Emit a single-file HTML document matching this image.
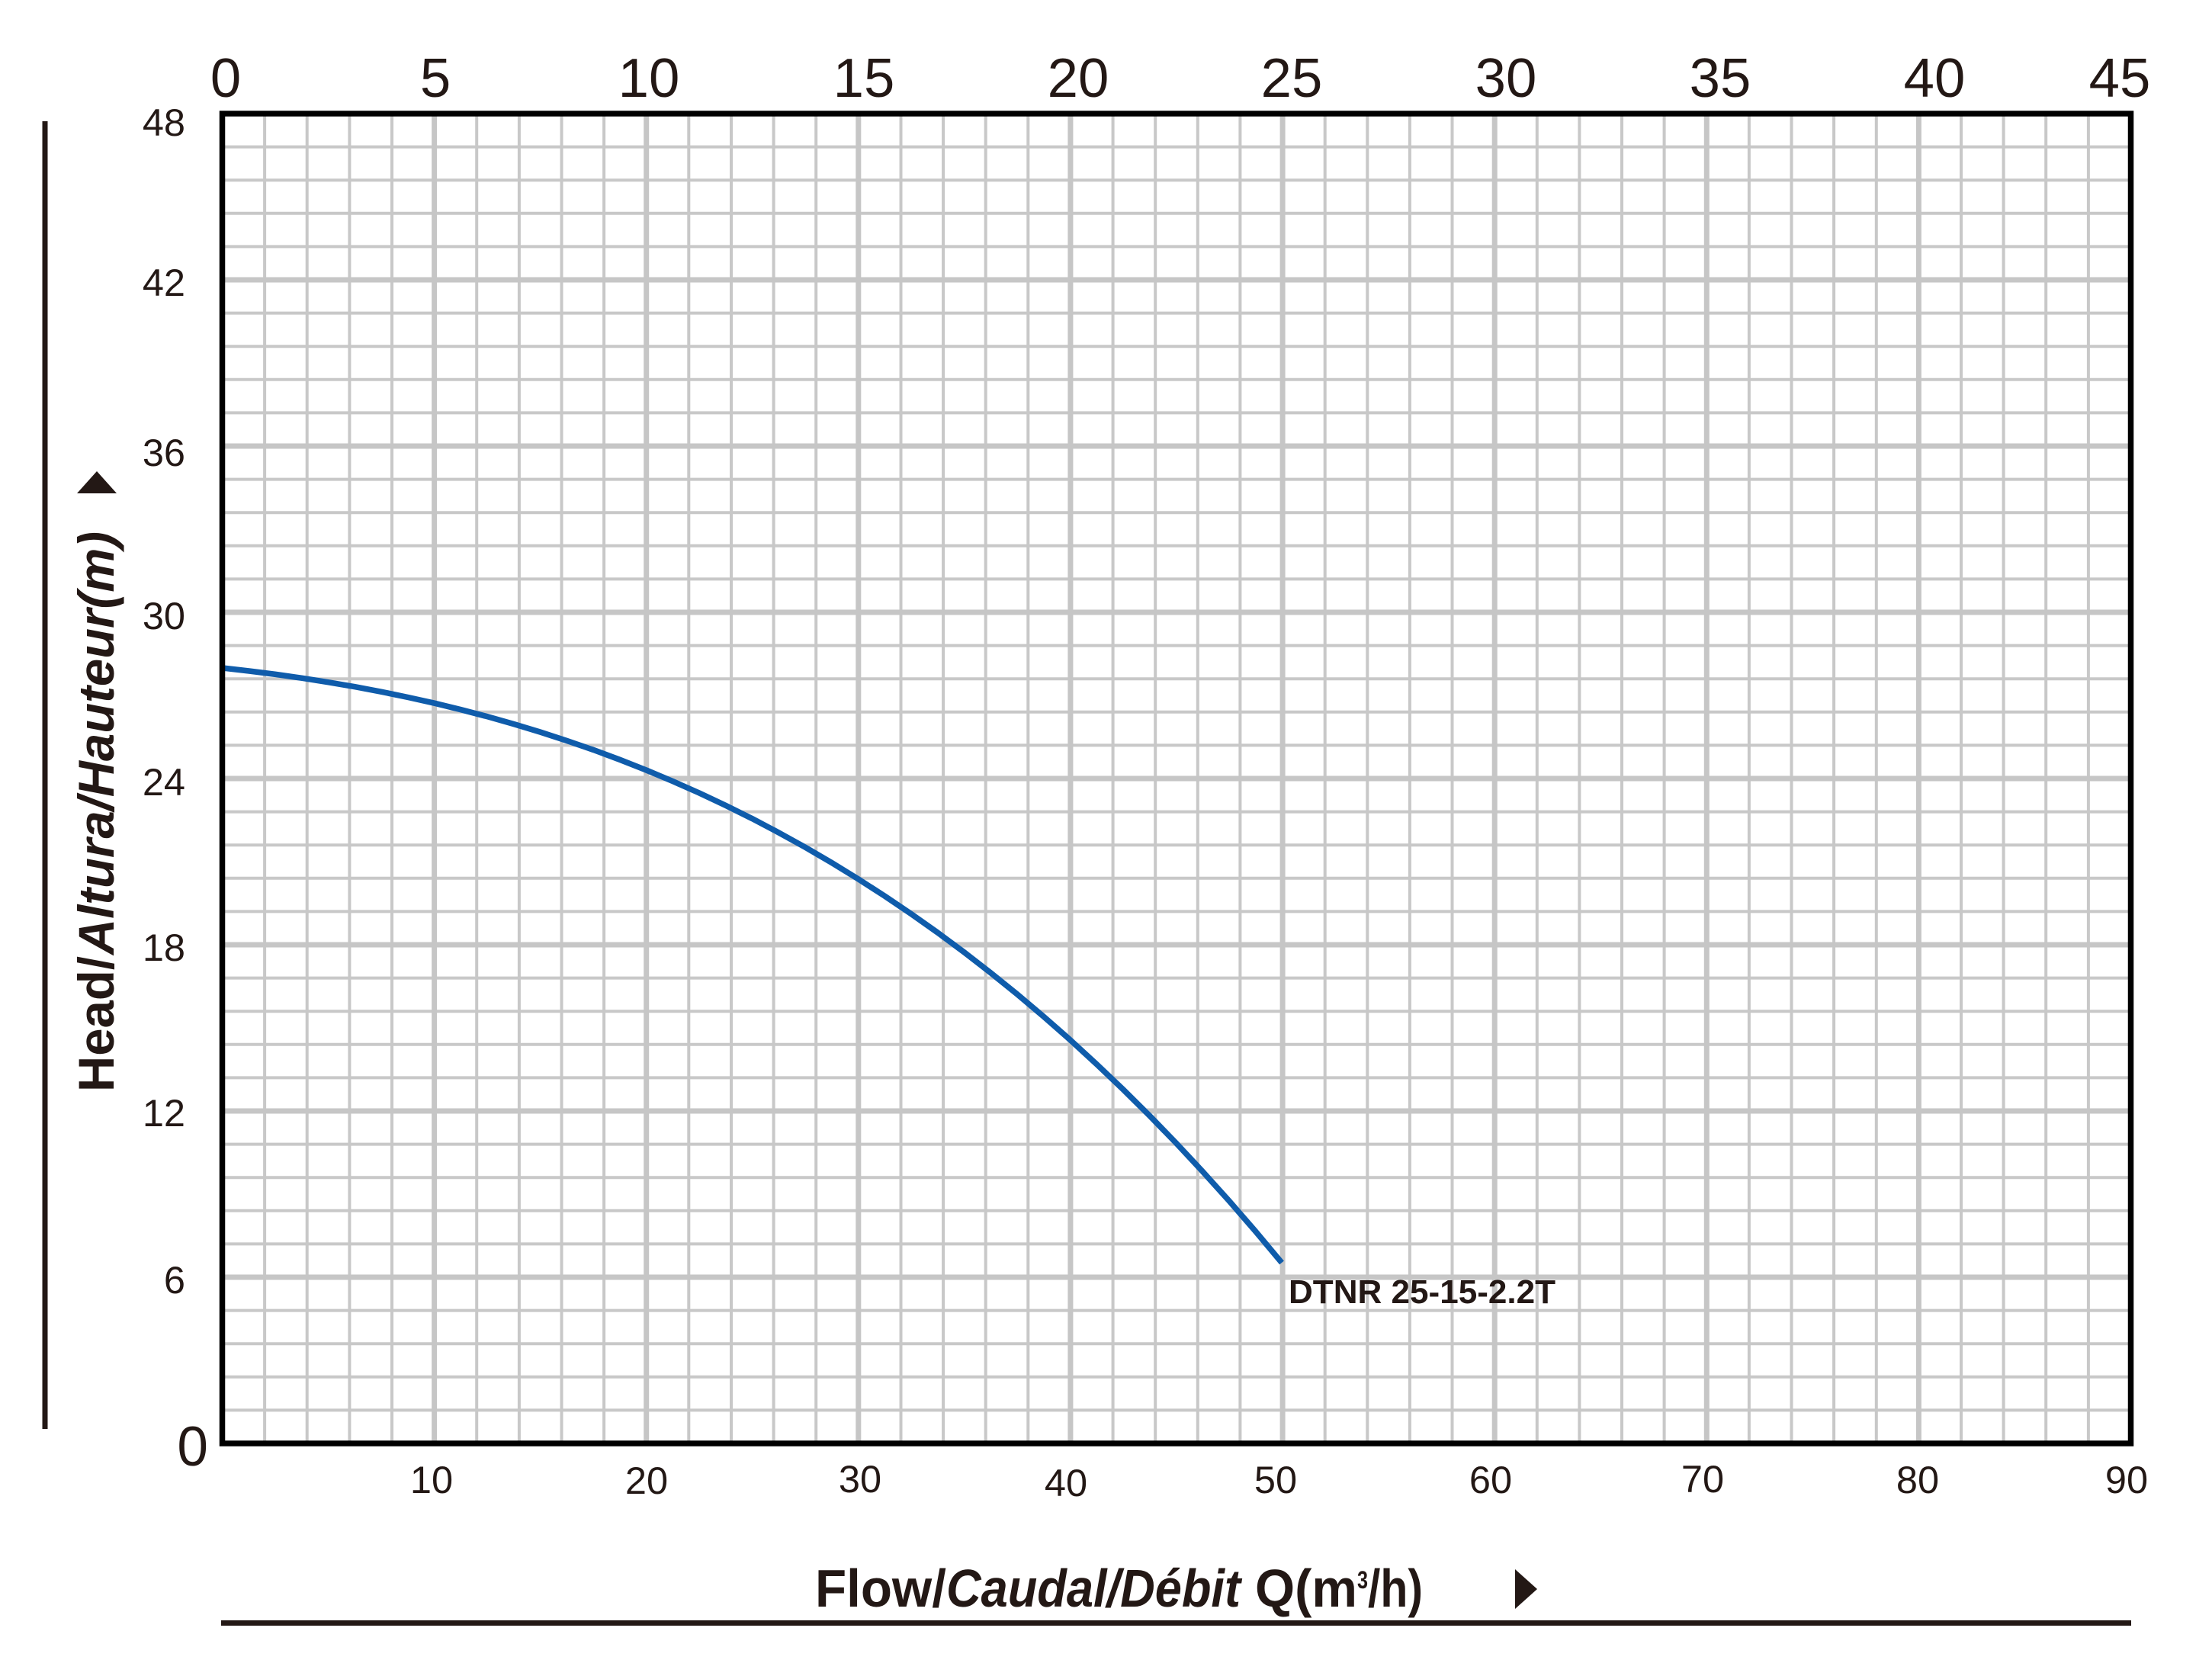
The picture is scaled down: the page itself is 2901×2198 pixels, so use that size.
<!DOCTYPE html>
<html>
<head>
<meta charset="utf-8">
<style>
html,body{margin:0;padding:0;background:#fff;}
svg{display:block;}
</style>
</head>
<body>
<svg width="2901" height="2198" viewBox="0 0 2901 2198" xmlns="http://www.w3.org/2000/svg">
<rect x="0" y="0" width="2901" height="2198" fill="#fff"/>

<!-- minor grid -->
<path fill="none" stroke="#c8c8c8" stroke-width="4" d="
M347.1 149V1893 M402.7 149V1893 M458.4 149V1893 M514.0 149V1893
M625.2 149V1893 M680.9 149V1893 M736.5 149V1893 M792.1 149V1893
M903.3 149V1893 M959.0 149V1893 M1014.6 149V1893 M1070.2 149V1893
M1181.5 149V1893 M1237.1 149V1893 M1292.7 149V1893 M1348.3 149V1893
M1459.6 149V1893 M1515.2 149V1893 M1570.8 149V1893 M1626.4 149V1893
M1737.7 149V1893 M1793.3 149V1893 M1848.9 149V1893 M1904.5 149V1893
M2015.8 149V1893 M2071.4 149V1893 M2127.0 149V1893 M2182.6 149V1893
M2293.9 149V1893 M2349.5 149V1893 M2405.1 149V1893 M2460.8 149V1893
M2572.0 149V1893 M2627.6 149V1893 M2683.2 149V1893 M2738.9 149V1893
M291.5 192.6H2794.5 M291.5 236.2H2794.5 M291.5 279.8H2794.5 M291.5 323.4H2794.5
M291.5 410.6H2794.5 M291.5 454.2H2794.5 M291.5 497.8H2794.5 M291.5 541.4H2794.5
M291.5 628.6H2794.5 M291.5 672.2H2794.5 M291.5 715.8H2794.5 M291.5 759.4H2794.5
M291.5 846.6H2794.5 M291.5 890.2H2794.5 M291.5 933.8H2794.5 M291.5 977.4H2794.5
M291.5 1064.6H2794.5 M291.5 1108.2H2794.5 M291.5 1151.8H2794.5 M291.5 1195.4H2794.5
M291.5 1282.6H2794.5 M291.5 1326.2H2794.5 M291.5 1369.8H2794.5 M291.5 1413.4H2794.5
M291.5 1500.6H2794.5 M291.5 1544.2H2794.5 M291.5 1587.8H2794.5 M291.5 1631.4H2794.5
M291.5 1718.6H2794.5 M291.5 1762.2H2794.5 M291.5 1805.8H2794.5 M291.5 1849.4H2794.5
"/>
<!-- major grid -->
<path fill="none" stroke="#c6c6c6" stroke-width="7" d="
M569.6 149V1893 M847.7 149V1893 M1125.8 149V1893 M1403.9 149V1893
M1682.1 149V1893 M1960.2 149V1893 M2238.3 149V1893 M2516.4 149V1893
M291.5 367H2794.5 M291.5 585H2794.5 M291.5 803H2794.5 M291.5 1021H2794.5
M291.5 1239H2794.5 M291.5 1457H2794.5 M291.5 1675H2794.5
"/>

<!-- curve -->
<polyline fill="none" stroke="#0f5cab" stroke-width="7.5" stroke-linejoin="round" stroke-linecap="butt"
points="292,876 326.7,880.0 361.5,884.4 396.2,889.3 430.9,894.8 465.6,900.7 500.4,907.3 535.1,914.5 569.8,922.2 604.5,930.7 639.3,939.8 674.0,949.6 708.7,960.1 743.4,971.4 778.2,983.4 812.9,996.3 847.6,1010.0 882.3,1024.6 917.1,1040.0 951.8,1056.4 986.5,1073.6 1021.2,1091.9 1056.0,1111.1 1090.7,1131.4 1125.4,1152.7 1160.1,1175.0 1194.9,1198.5 1229.6,1223.0 1264.3,1248.7 1299.0,1275.6 1333.8,1303.7 1368.5,1333.0 1403.2,1363.5 1437.9,1395.4 1472.7,1428.5 1507.4,1462.9 1542.1,1498.7 1576.8,1535.9 1611.6,1574.5 1646.3,1614.5 1681,1656"/>

<!-- plot border -->
<rect x="291.5" y="149" width="2503" height="1744" fill="none" stroke="#000" stroke-width="7.5"/>

<!-- left vertical bar -->
<rect x="55.5" y="159" width="7" height="1715" fill="#231815"/>
<!-- bottom bar -->
<rect x="290" y="2125" width="2505" height="7" fill="#231815"/>

<!-- top axis labels -->
<g font-family="'Liberation Sans', Arial, sans-serif" font-size="72.5" fill="#231815" text-anchor="middle">
<text x="296" y="127">0</text>
<text x="571" y="127">5</text>
<text x="851" y="127">10</text>
<text x="1133" y="127">15</text>
<text x="1414" y="127">20</text>
<text x="1694" y="127">25</text>
<text x="1975" y="127">30</text>
<text x="2256" y="127">35</text>
<text x="2537" y="127">40</text>
<text x="2780" y="127">45</text>
</g>

<!-- left axis labels -->
<g font-family="'Liberation Sans', Arial, sans-serif" font-size="50.5" fill="#231815" text-anchor="end">
<text x="243" y="178">48</text>
<text x="243" y="388">42</text>
<text x="243" y="611">36</text>
<text x="243" y="825">30</text>
<text x="243" y="1043">24</text>
<text x="243" y="1260">18</text>
<text x="243" y="1477">12</text>
<text x="243" y="1696">6</text>
</g>
<text x="273" y="1922" font-family="'Liberation Sans', Arial, sans-serif" font-size="73" fill="#231815" text-anchor="end">0</text>

<!-- bottom axis labels -->
<g font-family="'Liberation Sans', Arial, sans-serif" font-size="50.5" fill="#231815" text-anchor="middle">
<text x="566" y="1958">10</text>
<text x="848" y="1959">20</text>
<text x="1128" y="1957">30</text>
<text x="1398" y="1962">40</text>
<text x="1673" y="1958">50</text>
<text x="1955" y="1958">60</text>
<text x="2233" y="1957">70</text>
<text x="2515" y="1958">80</text>
<text x="2789" y="1958">90</text>
</g>

<!-- series label -->
<text x="1690" y="1709" font-family="'Liberation Sans', Arial, sans-serif" font-weight="bold" font-size="44" fill="#231815" textLength="350" lengthAdjust="spacingAndGlyphs">DTNR 25-15-2.2T</text>

<!-- y-axis title -->
<g transform="translate(149,1432) rotate(-90)" font-family="'Liberation Sans', Arial, sans-serif" font-weight="bold" font-size="66" fill="#231815">
<text x="0" y="0" textLength="178" lengthAdjust="spacingAndGlyphs">Head/</text>
<text x="180" y="0" font-style="italic" textLength="555" lengthAdjust="spacingAndGlyphs">Altura/Hauteur(m)</text>
</g>
<!-- y arrow -->
<polygon points="101,647 153,647 127,618" fill="#231815"/>

<!-- x-axis title -->
<g font-family="'Liberation Sans', Arial, sans-serif" font-weight="bold" font-size="70" fill="#231815">
<text x="1069" y="2107" textLength="172" lengthAdjust="spacingAndGlyphs">Flow/</text>
<text x="1241" y="2107" font-style="italic" textLength="386" lengthAdjust="spacingAndGlyphs">Caudal/Débit</text>
<text x="1646" y="2107" textLength="134" lengthAdjust="spacingAndGlyphs">Q(m</text>
<text x="1780" y="2083" font-size="32" textLength="14" lengthAdjust="spacingAndGlyphs">3</text>
<text x="1794" y="2107" textLength="72" lengthAdjust="spacingAndGlyphs">/h)</text>
</g>
<!-- x arrow -->
<polygon points="1987,2058 2016,2084 1987,2110" fill="#231815"/>
</svg>
</body>
</html>
